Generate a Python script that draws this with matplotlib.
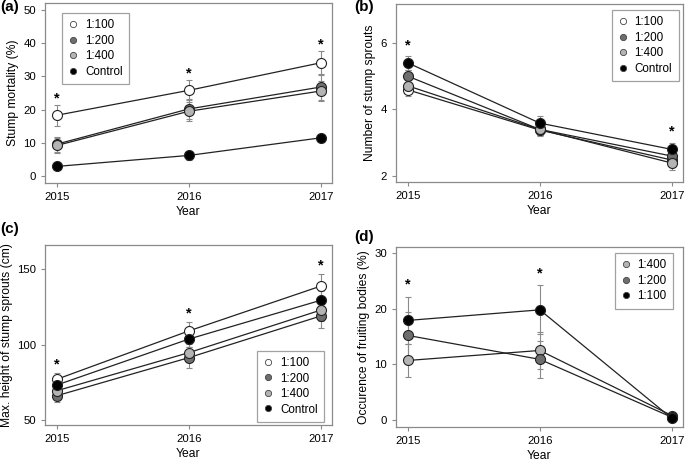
import matplotlib
matplotlib.use("Agg")
import matplotlib.pyplot as plt
from matplotlib.lines import Line2D

plt.rcParams['font.family'] = ['Liberation Sans', 'DejaVu Sans']

years = [2015, 2016, 2017]
treatments = ["1:100", "1:200", "1:400", "Control"]
face = {"1:100": "white", "1:200": "#6e6e6e", "1:400": "#b4b4b4", "Control": "black"}

# (a) stump mortality (%)
mort = {"1:100": [18.3, 25.8, 34.1], "1:200": [9.6, 20.2, 26.8],
        "1:400": [9.2, 19.5, 25.6], "Control": [2.9, 6.2, 11.5]}
mort_err = {"1:100": [3.2, 3.0, 3.6], "1:200": [2.3, 3.0, 3.8],
            "1:400": [2.2, 2.9, 3.0], "Control": [0.5, 1.3, 0.8]}
mort_star = [1, 1, 1]

# (b) number of stump sprouts
spr = {"1:100": [4.59, 3.38, 2.48], "1:200": [5.0, 3.4, 2.6],
       "1:400": [4.71, 3.4, 2.39], "Control": [5.4, 3.59, 2.8]}
spr_err = {"1:100": [0.2, 0.18, 0.2], "1:200": [0.2, 0.18, 0.2],
           "1:400": [0.2, 0.18, 0.2], "Control": [0.2, 0.2, 0.2]}
spr_star = [1, 0, 1]

# (c) max height of stump sprouts (cm)
hgt = {"1:100": [77.0, 109.0, 138.7], "1:200": [66.1, 91.3, 118.9],
       "1:400": [69.4, 94.6, 122.8], "Control": [73.2, 103.6, 129.3]}
hgt_err = {"1:100": [4.0, 6.0, 8.0], "1:200": [4.0, 7.0, 8.0],
           "1:400": [4.0, 6.0, 7.0], "Control": [4.0, 5.0, 6.0]}
hgt_star = [1, 1, 1]

# (d) occurrence of fruiting bodies (%)
fr_treat = ["1:400", "1:200", "1:100"]
fr_face = {"1:400": "#b4b4b4", "1:200": "#6e6e6e", "1:100": "black"}
fruit = {"1:400": [10.7, 12.5, 0.8], "1:200": [15.2, 10.9, 0.5], "1:100": [17.9, 19.8, 0.3]}
fruit_err = {"1:400": [3.0, 3.3, 0.3], "1:200": [4.3, 3.3, 0.3], "1:100": [4.2, 4.4, 0.2]}
fruit_star = [1, 1, 0]

W, H = 685, 462
fig = plt.figure(figsize=(W / 100, H / 100), dpi=100)

def mkax(l, t, r, b):
    return fig.add_axes([l / W, 1 - b / H, (r - l) / W, (b - t) / H])

SP = "#8a8a8a"
FS = 8.2

def style(ax, ylim, yticks, ylabel):
    ax.set_xlim(2014.91, 2017.085)
    ax.set_ylim(*ylim)
    ax.set_xticks(years)
    ax.set_yticks(yticks)
    for s in ax.spines.values():
        s.set_color(SP)
        s.set_linewidth(0.9)
    ax.tick_params(colors=SP, labelcolor="black", labelsize=FS, length=3, width=0.8)
    ax.set_xlabel("Year", fontsize=FS + 0.5, labelpad=3)
    ax.set_ylabel(ylabel, fontsize=FS + 0.5, labelpad=3)

def draw(ax, order, data, err, faces, stars, star_off, legend_loc, legend_anchor):
    for t in order:
        ax.errorbar(years, data[t], yerr=err[t], fmt="none", ecolor="#8a8a8a",
                    elinewidth=0.8, capsize=2, capthick=0.8, zorder=1)
    for t in order:
        ax.plot(years, data[t], color="#222222", lw=0.9, zorder=2)
    for t in order:
        ax.plot(years, data[t], ls="none", marker="o", ms=7.2, mfc=faces[t],
                mec="#222222", mew=0.8, zorder=3)
    for i, s in enumerate(stars):
        if s:
            top = max(data[t][i] + err[t][i] for t in order)
            ax.text(years[i], top + star_off, "*", ha="center", va="center",
                    fontsize=10.5, fontweight="bold")
    handles = [Line2D([], [], ls="none", marker="o", ms=4.5, mfc=faces[t],
                      mec="#444444", mew=0.6, label=t) for t in order]
    leg = ax.legend(handles=handles, loc=legend_loc, bbox_to_anchor=legend_anchor,
                    fontsize=FS + 0.2, frameon=True, fancybox=False,
                    handlelength=0.8, handletextpad=0.6, borderpad=0.55,
                    labelspacing=0.3, borderaxespad=0)
    leg.get_frame().set_edgecolor(SP)
    leg.get_frame().set_linewidth(0.9)

# (a)
axa = mkax(45, 3, 332, 183)
style(axa, (-2.1, 52.1), [0, 10, 20, 30, 40, 50], "Stump mortality (%)")
draw(axa, treatments, mort, mort_err, face, mort_star, 2.0, "upper left", (0.06, 0.945))

# (b)
axb = mkax(396, 4, 683, 182)
style(axb, (1.82, 7.17), [2, 4, 6], "Number of stump sprouts")
draw(axb, treatments, spr, spr_err, face, spr_star, 0.33, "upper right", (0.985, 0.966))

# (c)
axc = mkax(45, 245, 332, 425)
style(axc, (46.7, 165.9), [50, 100, 150], "Max. height of stump sprouts (cm)")
draw(axc, treatments, hgt, hgt_err, face, hgt_star, 5.5, "lower right", (0.972, 0.017))

# (d)
axd = mkax(396, 247, 683, 427)
style(axd, (-1.26, 31.1), [0, 10, 20, 30], "Occurence of fruiting bodies (%)")
draw(axd, fr_treat, fruit, fruit_err, fr_face, fruit_star, 2.2, "upper right", (0.965, 0.967))

for lab, x, y in [("(a)", 0, 0), ("(b)", 354, 0), ("(c)", 0, 222), ("(d)", 354, 230)]:
    fig.text(x / W, 1 - y / H, lab, fontsize=11, fontweight="bold", va="top", ha="left")

fig.savefig("out.png", dpi=100)
